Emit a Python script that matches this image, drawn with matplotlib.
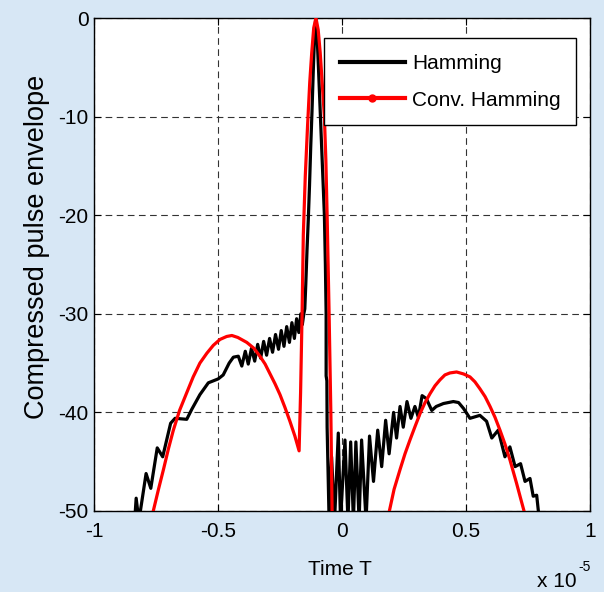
import matplotlib
matplotlib.use("Agg")
import matplotlib.pyplot as plt
from matplotlib.lines import Line2D

# time axis is in units of 1e-5 s, values in dB
hamming_t = [-0.836, -0.830, -0.819, -0.790, -0.771, -0.745, -0.723, -0.691, -0.673,
             -0.626, -0.606, -0.573, -0.539, -0.499, -0.479, -0.455, -0.438, -0.418,
             -0.404, -0.390, -0.378, -0.365, -0.352, -0.340, -0.328, -0.316, -0.304,
             -0.292, -0.280, -0.268, -0.256, -0.245, -0.234, -0.223, -0.212, -0.202,
             -0.192, -0.183, -0.174, -0.166, -0.160, -0.154, -0.150,
             -0.146, -0.141, -0.136, -0.131, -0.126, -0.121, -0.116, -0.111, -0.106,
             -0.101, -0.095, -0.087, -0.079, -0.071, -0.067, -0.064, -0.064, -0.061,
             -0.060, -0.052, -0.042, -0.030, -0.015, -0.006, 0.012, 0.024, 0.035,
             0.046, 0.056, 0.069, 0.079, 0.097, 0.111, 0.127, 0.144, 0.160, 0.176,
             0.190, 0.208, 0.220, 0.234, 0.247, 0.262, 0.278, 0.294, 0.308, 0.323,
             0.340, 0.362, 0.380, 0.409, 0.449, 0.470, 0.490, 0.516, 0.556, 0.583,
             0.604, 0.630, 0.657, 0.677, 0.698, 0.720, 0.738, 0.758, 0.771, 0.785,
             0.796]
hamming_db = [-51.0, -48.7, -51.0, -46.2, -47.7, -43.6, -44.5, -41.1, -40.6,
              -40.7, -39.7, -38.2, -37.0, -36.6, -36.2, -35.0, -34.4, -34.3,
              -35.3, -33.8, -35.1, -33.5, -34.8, -33.1, -34.5, -32.8, -34.2,
              -32.5, -33.9, -32.1, -33.6, -31.7, -33.3, -31.3, -32.9, -30.9,
              -32.5, -30.5, -31.9, -30.0, -31.1, -30.0, -29.5,
              -27.0, -23.5, -20.5, -17.0, -13.0, -9.5, -5.5, -2.0, 0.0,
              -1.5, -5.0, -10.0, -15.0, -20.0, -25.0, -30.0, -36.3, -36.8,
              -41.5, -51.0, -44.5, -51.0, -42.1, -51.0, -42.8, -51.0, -43.0,
              -51.0, -43.0, -51.0, -42.8, -51.0, -42.4, -47.0, -41.8, -45.5, -40.8,
              -44.2, -40.0, -42.6, -39.4, -41.5, -38.9, -40.6, -39.4, -40.5, -38.3,
              -38.6, -39.8, -39.4, -39.1, -38.9, -39.0, -39.6, -40.6, -40.3, -40.9,
              -42.6, -41.8, -44.5, -43.5, -45.5, -45.2, -47.0, -46.7, -48.5, -48.4,
              -51.0]

conv_t = [-0.775, -0.761, -0.740, -0.720, -0.700, -0.680, -0.655, -0.626, -0.600,
          -0.573, -0.545, -0.519, -0.492, -0.465, -0.444, -0.420, -0.384, -0.355,
          -0.331, -0.310, -0.290, -0.270, -0.250, -0.230, -0.210, -0.190,
          -0.173, -0.167, -0.161, -0.156, -0.148, -0.139, -0.130, -0.122, -0.114,
          -0.105, -0.096, -0.088, -0.080, -0.071, -0.065, -0.060, -0.052, -0.045,
          -0.040, -0.036, 0.180, 0.191, 0.210, 0.234, 0.254, 0.274, 0.295, 0.315,
          0.335, 0.355, 0.375, 0.395, 0.415, 0.435, 0.462, 0.490, 0.516, 0.536,
          0.556, 0.577, 0.597, 0.617, 0.637, 0.657, 0.677, 0.704, 0.720, 0.734,
          0.745]
conv_db = [-51.5, -50.0, -47.8, -45.8, -43.7, -41.8, -39.8, -38.0, -36.4,
           -35.0, -34.0, -33.2, -32.6, -32.3, -32.2, -32.4, -32.9, -33.5,
           -34.3, -35.1, -36.1, -37.1, -38.2, -39.5, -40.9, -42.4,
           -43.9, -38.0, -30.0, -22.0, -16.0, -11.0, -6.5, -3.5, -1.0,
           0.0, -1.2, -3.5, -6.5, -10.0, -14.5, -20.0, -30.0, -40.0,
           -50.0, -52.0, -52.0, -50.0, -47.8, -45.8, -44.2, -42.8, -41.4, -40.1,
           -39.0, -38.1, -37.3, -36.7, -36.2, -36.0, -35.9, -36.1, -36.4, -36.9,
           -37.6, -38.4, -39.4, -40.5, -41.8, -43.2, -44.8, -47.2, -48.7, -50.0,
           -51.5]

xticks = [-1, -0.5, 0, 0.5, 1]
xtick_labels = ['-1', '-0.5', '0', '0.5', '1']
yticks = [0, -10, -20, -30, -40, -50]
ytick_labels = ['0', '-10', '-20', '-30', '-40', '-50']

plt.rcParams['font.family'] = ['Liberation Sans', 'DejaVu Sans']
fs = 15

fig = plt.figure(figsize=(6.04, 5.92), dpi=100)
fig.patch.set_facecolor('#d7e7f5')
ax = fig.add_axes([94 / 604, 1 - 511 / 592, 496 / 604, 493 / 592])
ax.set_facecolor('white')

ax.plot(hamming_t, hamming_db, color='black', linewidth=2.3, zorder=3)
ax.plot(conv_t, conv_db, color='#ff0000', linewidth=2.3, zorder=4)

ax.set_xlim(-1, 1)
ax.set_ylim(-50, 0)
ax.set_xticks(xticks)
ax.set_xticklabels(xtick_labels)
ax.set_yticks(yticks)
ax.set_yticklabels(ytick_labels)
ax.tick_params(axis='both', direction='in', length=5, width=0.8,
               top=True, right=True, labelsize=fs, colors='black')
ax.tick_params(axis='x', pad=8)
ax.tick_params(axis='y', pad=4)
for sp in ax.spines.values():
    sp.set_color('black')
    sp.set_linewidth(1.0)

ax.grid(True, color='#333333', linestyle=(0, (6, 4)), linewidth=0.8)
ax.set_axisbelow(True)

handles = [Line2D([], [], color='black', linewidth=3.0),
           Line2D([], [], color='#ff0000', linewidth=3.0, marker='o', markersize=5)]
leg = ax.legend(handles, ['Hamming', 'Conv. Hamming'], loc='upper right',
                bbox_to_anchor=(0.972, 0.959), borderaxespad=0, fontsize=fs,
                handlelength=3.1, handletextpad=0.35, labelspacing=0.85,
                borderpad=0.75, fancybox=False, framealpha=1)
leg.get_frame().set_edgecolor('black')
leg.get_frame().set_linewidth(1.0)

fig.text(340 / 604, 1 - 575 / 592, 'Time T', ha='center', va='baseline', fontsize=fs)
fig.text(537 / 604, 1 - 587 / 592, 'x 10', ha='left', va='baseline', fontsize=fs)
fig.text(578 / 604, 1 - 571 / 592, '-5', ha='left', va='baseline', fontsize=10)
fig.text(37 / 604, 1 - 247 / 592, 'Compressed pulse envelope', rotation=90,
         ha='center', va='center', fontsize=19.5)

fig.savefig('out.png', dpi=100, facecolor=fig.get_facecolor())
